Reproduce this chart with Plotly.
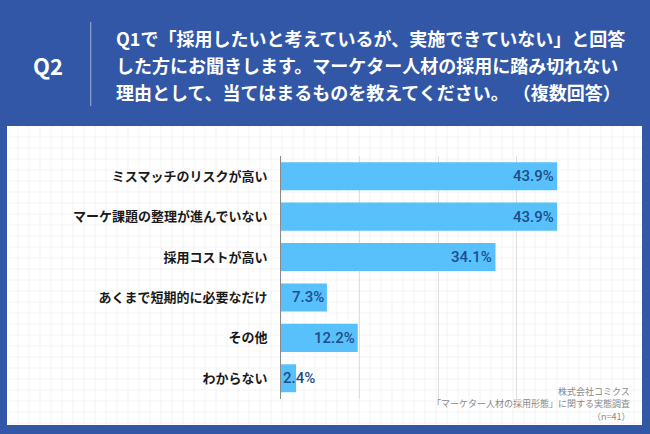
import plotly.graph_objects as go

categories = [
    "ミスマッチのリスクが高い",
    "マーケ課題の整理が進んでいない",
    "採用コストが高い",
    "あくまで短期的に必要なだけ",
    "その他",
    "わからない",
]
values = [43.9, 43.9, 34.1, 7.3, 12.2, 2.4]
value_labels = ["43.9%", "43.9%", "34.1%", "7.3%", "12.2%", "2.4%"]

header_q = "Q2"
header_lines = [
    "Q1で「採用したいと考えているが、実施できていない」と回答",
    "した方にお聞きします。マーケター人材の採用に踏み切れない",
    "理由として、当てはまるものを教えてください。 （複数回答）",
]
source_lines = ["株式会社コミクス", "「マーケター人材の採用形態」に関する実態調査", "（n=41）"]

W, H = 650, 434
BLUE = "#3257a6"
BAR = "#58c1fb"
JP = "Noto Sans CJK JP"


def px(x):
    return x / W


def py(y):
    return 1 - y / H


fig = go.Figure(
    go.Bar(
        x=values,
        y=categories,
        orientation="h",
        marker=dict(color=BAR, line=dict(width=0)),
        hoverinfo="skip",
    )
)

shapes = []
# white panel
shapes.append(dict(type="rect", xref="paper", yref="paper",
                   x0=px(7), x1=px(642), y0=py(126), y1=py(425),
                   fillcolor="white", line=dict(width=0), layer="below"))
# faint graph-paper pattern
step = 11.0
gx = 7 + step
while gx < 642:
    shapes.append(dict(type="line", xref="paper", yref="paper",
                       x0=px(gx), x1=px(gx), y0=py(126), y1=py(425),
                       line=dict(color="#f3f3f3", width=1), layer="below"))
    gx += step
gy = 126 + step
while gy < 425:
    shapes.append(dict(type="line", xref="paper", yref="paper",
                       x0=px(7), x1=px(642), y0=py(gy), y1=py(gy),
                       line=dict(color="#f3f3f3", width=1), layer="below"))
    gy += step
# header divider
shapes.append(dict(type="line", xref="paper", yref="paper",
                   x0=px(90.7), x1=px(90.7), y0=py(22), y1=py(106),
                   line=dict(color="rgba(255,255,255,0.45)", width=1.2)))

annotations = []
annotations.append(dict(text="<b>" + header_q + "</b>", xref="paper", yref="paper",
                        x=px(48), y=py(65), xanchor="center", yanchor="middle",
                        showarrow=False, font=dict(family=JP, size=22, color="white")))
for i, line in enumerate(header_lines):
    annotations.append(dict(text="<b>" + line + "</b>", xref="paper", yref="paper",
                            x=px(114), y=py(38 + 27 * i), xanchor="left", yanchor="middle",
                            showarrow=False, font=dict(family=JP, size=18, color="white")))
for i, line in enumerate(source_lines):
    annotations.append(dict(text=line, xref="paper", yref="paper",
                            x=px(632), y=py(391 + 12.7 * i), xanchor="right", yanchor="middle",
                            showarrow=False, font=dict(family=JP, size=9, color="#8a8a8a")))
# value labels
for cat, v, lab in zip(categories, values, value_labels):
    if v < 5:
        annotations.append(dict(text=lab, x=0, y=cat, xref="x", yref="y",
                                xanchor="left", yanchor="middle", showarrow=False, xshift=0,
                                font=dict(family="Roboto", size=15, color="#1d4e89", weight=500)))
    else:
        annotations.append(dict(text=lab, x=v, y=cat, xref="x", yref="y",
                                xanchor="right", yanchor="middle", showarrow=False, xshift=-1,
                                font=dict(family="Roboto", size=15, color="#1d4e89", weight=500)))

fig.update_layout(
    width=W, height=H,
    margin=dict(l=0, r=0, t=0, b=0),
    paper_bgcolor=BLUE,
    plot_bgcolor="rgba(0,0,0,0)",
    showlegend=False,
    bargap=0.305,
    shapes=shapes,
    annotations=annotations,
    xaxis=dict(
        domain=[px(281), px(595.5)],
        range=[0, 50],
        dtick=12.5,
        showticklabels=False,
        showgrid=True,
        gridcolor="#dedede",
        gridwidth=1,
        zeroline=False,
        showline=False,
        fixedrange=True,
    ),
    yaxis=dict(
        domain=[py(398.5), py(156)],
        autorange="reversed",
        showgrid=False,
        showline=True,
        linecolor="#8a8a8a",
        linewidth=1,
        ticks="",
        ticklabelstandoff=10,
        tickfont=dict(family=JP, size=13, color="#1a1a1a", weight="bold"),
        fixedrange=True,
    ),
)

fig.write_html(
    "out.html",
    config={"displayModeBar": False},
    post_script="document.body.style.margin='0';document.body.style.background='" + BLUE + "';",
)
